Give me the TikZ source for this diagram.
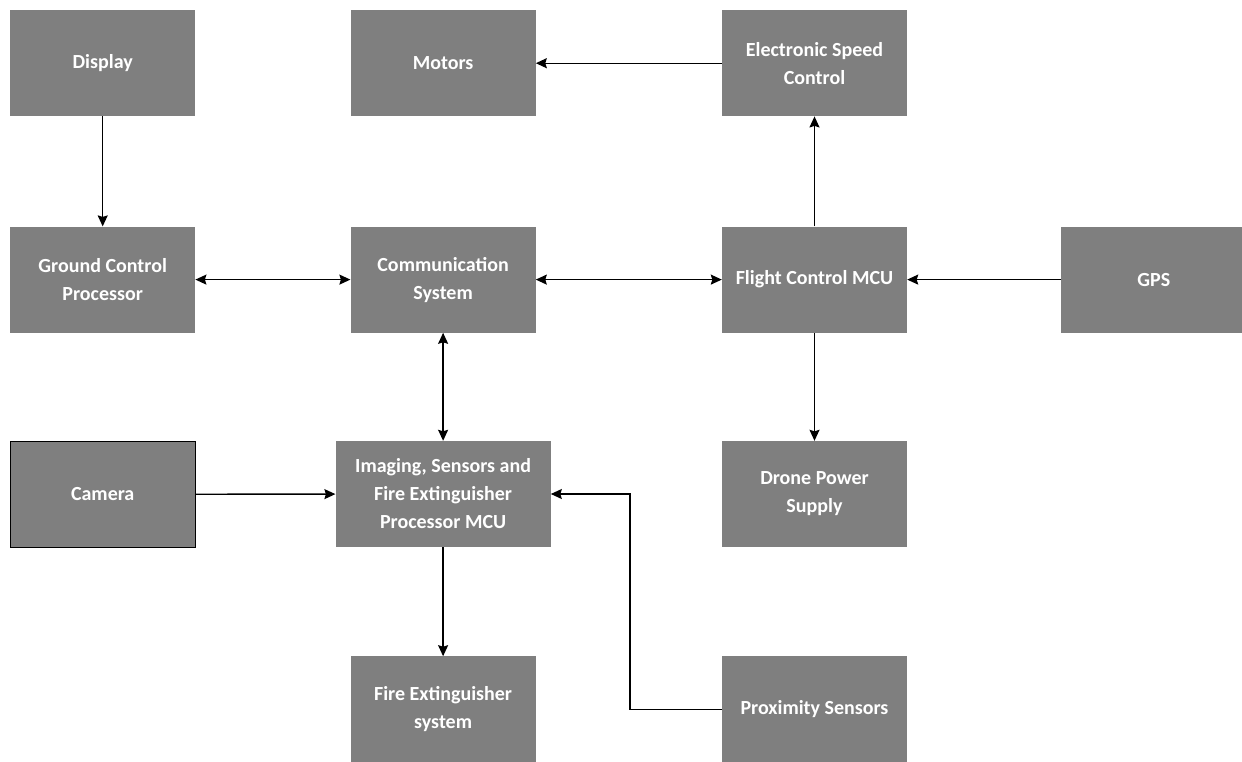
\documentclass[tikz,border=0pt]{standalone}
\usepackage{fontspec}
\setmainfont{Carlito}
\usepackage{tikz}
\usetikzlibrary{arrows.meta,positioning,calc}
\definecolor{boxgray}{HTML}{7F7F7F}
\tikzset{
  blk/.style={rectangle,fill=boxgray,text=white,minimum width=185pt,minimum height=106pt,inner sep=2pt,align=center,font=\bfseries\fontsize{20}{28}\selectfont},
  wblk/.style={blk,minimum width=215pt},
  cblk/.style={blk,draw=black,line width=1pt},
  arr/.style={-{Stealth[length=11pt,width=10pt,inset=1.5pt]},line width=1.4pt},
  darr/.style={{Stealth[length=11pt,width=10pt,inset=1.5pt]}-{Stealth[length=11pt,width=10pt,inset=1.5pt]},line width=1.4pt}
}

\begin{document}
\begin{tikzpicture}
\useasboundingbox (0,0) rectangle (1242pt,-761pt);
% top row
\node[blk, anchor=north west] (Disp) at (10pt,-10pt) {Display};
\node[blk, right=155pt of Disp] (Mot) {Motors};
\node[blk, right=186pt of Mot] (ESC) {Electronic Speed\\Control};
% middle row
\node[blk, below=110pt of Disp] (GCP) {Ground Control\\Processor};
\node[blk, below=110pt of Mot] (Comm) {Communication\\System};
\node[blk, below=110pt of ESC] (FC) {Flight Control MCU};
\node[blk, right=154pt of FC] (GPS) {GPS};
% third row
\node[cblk, below=108pt of GCP] (Cam) {Camera};
\node[wblk, below=108pt of Comm] (Img) {Imaging, Sensors and\\Fire Extinguisher\\Processor MCU};
\node[blk, below=108pt of FC] (DPS) {Drone Power\\Supply};
% bottom row
\node[blk, below=109pt of Img.south, anchor=north] (FES) {Fire Extinguisher\\system};
\node[blk, below=109pt of DPS] (Prox) {Proximity Sensors};
\coordinate (bend) at ($(Prox.west)+(-92pt,0)$);
% connections
\draw[arr] (ESC) -- (Mot);
\draw[arr] (Disp) -- (GCP);
\draw[darr] (GCP) -- (Comm);
\draw[darr] (Comm) -- (FC);
\draw[arr] (GPS) -- (FC);
\draw[arr] (FC) -- (ESC);
\draw[arr] (FC) -- (DPS);
\draw[darr] (Comm) -- (Img);
\draw[arr] (Cam) -- (Img);
\draw[arr] (Img) -- (FES);
\draw[arr] (Prox.west) -- (bend) |- (Img.east);
\end{tikzpicture}
\end{document}
